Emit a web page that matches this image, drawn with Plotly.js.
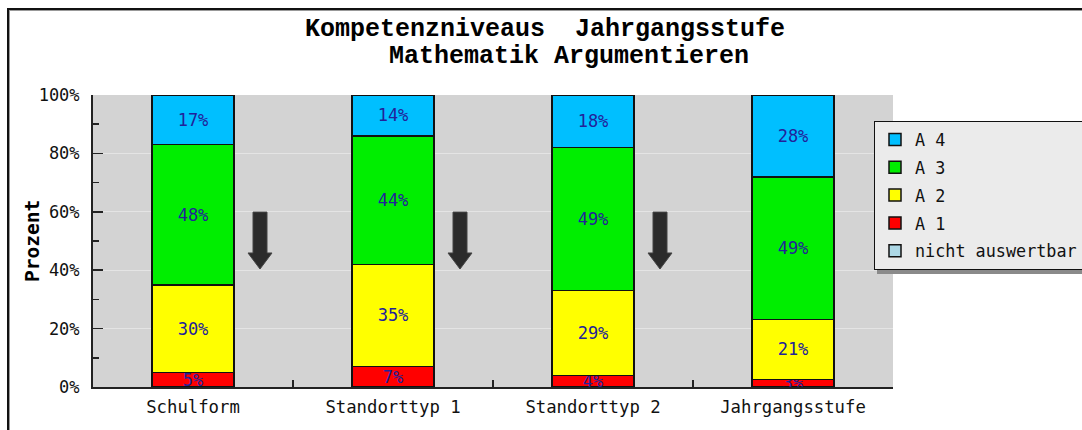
<!DOCTYPE html>
<html>
<head>
<meta charset="utf-8">
<script src="https://cdn.plot.ly/plotly-3.0.1.min.js"></script>
<style>
  html, body { margin: 0; padding: 0; background: #fff; overflow: hidden; }
  #chart { width: 1082px; height: 430px; position: absolute; left: 0; top: 0; }
  #frame { position: absolute; left: 7px; top: 8px; width: 1200px; height: 600px;
           border-top: 2px solid #111; border-left: 2px solid #111; pointer-events: none; }
  #frame2 { position: absolute; left: 9px; top: 10px; width: 1200px; height: 600px;
           border-top: 1px solid #999; border-left: 1px solid #999; pointer-events: none; }
</style>
</head>
<body>
<div id="chart"></div>
<div id="frame"></div>
<div id="frame2"></div>
<script>
const categories = ["Schulform", "Standorttyp 1", "Standorttyp 2", "Jahrgangsstufe"];
const nichtAuswertbar = [0, 0, 0, 0];
const a1 = [5, 7, 4, 2.6];
const a2 = [30, 35, 29, 20.6];
const a3 = [48, 44, 49, 48.8];
const a4 = [17, 14, 18, 28.0];
const yTickVals = [0, 20, 40, 60, 80, 100];
const titleLine1 = "Kompetenzniveaus\u00a0\u00a0Jahrgangsstufe";
const titleLine2 = "Mathematik Argumentieren";
const yTitle = "Prozent";
const arrowAfter = [0, 1, 2];

const FONT = "DejaVu Sans Mono, Liberation Mono, monospace";
const TFONT = "Liberation Mono, DejaVu Sans Mono, monospace";
const labelColor = "#22229a";

// plot area geometry (pixels)
const L = 93, R = 893, T = 95, B = 387;
const px = x => (x - L) / (R - L);
const py = y => (B - y) / (B - T);

function pct(arr) { return arr.map(v => Math.round(v) + "%"); }

function barTrace(name, vals, color, rank, showText) {
  return {
    type: "bar",
    name: name,
    x: categories,
    y: vals,
    width: 0.41,
    legendgroup: name,
    legendrank: rank,
    marker: { color: color, line: { color: "#111", width: 1.5 } },
    text: showText ? pct(vals) : null,
    textposition: showText ? "inside" : "none",
    insidetextanchor: "middle",
    constraintext: "none",
    textangle: 0,
    textfont: { family: FONT, size: 17, color: labelColor },
    hoverinfo: "x+y+name",
    cliponaxis: false
  };
}

const data = [
  barTrace("nicht auswertbar", nichtAuswertbar, "#add8e6", 5, false),
  barTrace("A 1", a1, "#ff0000", 4, true),
  barTrace("A 2", a2, "#ffff00", 3, true),
  barTrace("A 3", a3, "#00ee00", 2, true),
  barTrace("A 4", a4, "#00bfff", 1, true)
];

const shapes = arrowAfter.map(i => ({
  type: "path",
  xref: "x", yref: "y",
  xsizemode: "pixel",
  xanchor: i + 0.335,
  path: "M -7,59.9 L 7,59.9 L 7,45.9 L 12,45.9 L 0,40.4 L -12,45.9 L -7,45.9 Z",
  fillcolor: "#2b2b2b",
  line: { color: "#444", width: 1 },
  layer: "above"
}));

// legend shadow
shapes.push({
  type: "rect", xref: "paper", yref: "paper",
  x0: px(877), x1: px(1200), y0: py(274), y1: py(125),
  fillcolor: "#8a8a8a", line: { width: 0 }, layer: "above"
});

const annotations = [
  { text: "<b>" + titleLine1 + "</b>", xref: "paper", yref: "paper",
    x: px(545), y: py(29), xanchor: "center", yanchor: "middle",
    showarrow: false, font: { family: TFONT, size: 25, color: "#000" } },
  { text: "<b>" + titleLine2 + "</b>", xref: "paper", yref: "paper",
    x: px(569), y: py(56), xanchor: "center", yanchor: "middle",
    showarrow: false, font: { family: TFONT, size: 25, color: "#000" } },
  { text: "<b>" + yTitle + "</b>", xref: "paper", yref: "paper",
    x: px(32), y: py(241), xanchor: "center", yanchor: "middle", textangle: -90,
    showarrow: false, font: { family: FONT, size: 19.5, color: "#000" } }
];

const layout = {
  width: 1082, height: 430,
  margin: { l: L, r: 1082 - R, t: T, b: 430 - B, autoexpand: false },
  paper_bgcolor: "#ffffff",
  plot_bgcolor: "#d3d3d3",
  barmode: "stack",
  showlegend: true,
  font: { family: FONT, size: 17, color: "#111" },
  xaxis: {
    type: "category",
    range: [-0.5, 3.5],
    tickson: "boundaries",
    ticks: "inside", ticklen: 7, tickcolor: "#222", tickwidth: 1.5,
    showline: true, linecolor: "#222", linewidth: 2,
    showgrid: false, zeroline: false,
    ticklabelstandoff: 3,
    tickfont: { family: FONT, size: 17.3, color: "#111" },
    automargin: false,
    fixedrange: true
  },
  yaxis: {
    range: [0, 100],
    tickvals: yTickVals,
    ticktext: yTickVals.map(v => v + "%"),
    ticks: "inside", ticklen: 10, tickcolor: "#222", tickwidth: 1.5,
    minor: { dtick: 10, ticks: "inside", ticklen: 6, tickcolor: "#222", tickwidth: 1.5, showgrid: false },
    showline: true, linecolor: "#222", linewidth: 2,
    showgrid: true, gridcolor: "#e4e4e4", gridwidth: 1,
    zeroline: false,
    ticklabelstandoff: 8,
    tickfont: { family: FONT, size: 17, color: "#111" },
    automargin: false,
    fixedrange: true
  },
  legend: {
    xref: "paper", yref: "paper",
    x: px(874), xanchor: "left",
    y: py(121), yanchor: "top",
    bgcolor: "#ebebeb",
    bordercolor: "#111", borderwidth: 1,
    traceorder: "grouped",
    tracegroupgap: 3,
    itemwidth: 30,
    font: { family: FONT, size: 16.8, color: "#111" }
  },
  annotations: annotations,
  shapes: shapes
};

Plotly.newPlot("chart", data, layout, { displayModeBar: false, staticPlot: true });
</script>
</body>
</html>
